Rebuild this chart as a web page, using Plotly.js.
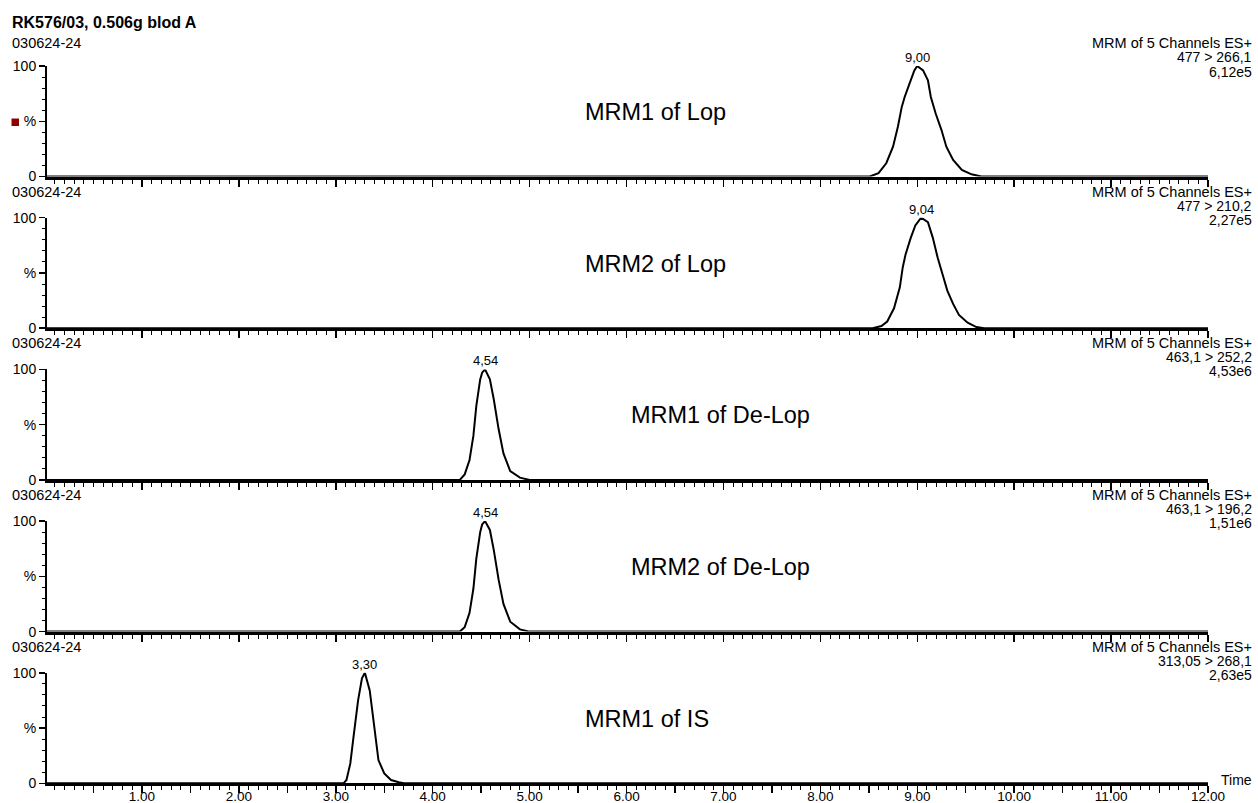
<!DOCTYPE html>
<html>
<head>
<meta charset="utf-8">
<script src="https://cdn.plot.ly/plotly-3.0.1.min.js"></script>
<style>html,body{margin:0;padding:0;background:#fff;}#chart{width:1258px;height:803px;}</style>
</head>
<body>
<div id="chart"></div>
<script>
// ---- Data ----
const chartTitle = "RK576/03, 0.506g blod A";
const sampleIds = ["030624-24", "030624-24", "030624-24", "030624-24", "030624-24"];
const channelHeader = "MRM of 5 Channels ES+";
const transitions = ["477 > 266,1", "477 > 210,2", "463,1 > 252,2", "463,1 > 196,2", "313,05 > 268,1"];
const intensities = ["6,12e5", "2,27e5", "4,53e6", "1,51e6", "2,63e5"];
const compoundLabels = ["MRM1 of Lop", "MRM2 of Lop", "MRM1 of De-Lop", "MRM2 of De-Lop", "MRM1 of IS"];
const peakTimes = [9.00, 9.04, 4.54, 4.54, 3.30];
const peakLabels = ["9,00", "9,04", "4,54", "4,54", "3,30"];

const t1 = [0.02, 8.51, 8.60, 8.68, 8.75, 8.80, 8.84, 8.87, 8.92, 8.97, 9.00, 9.06, 9.11, 9.14, 9.19, 9.25, 9.30, 9.37, 9.46, 9.56, 9.66, 12.0];
const v1 = [0, 0, 3, 12, 27, 45, 63, 72, 84, 96, 100, 96, 87, 72, 57, 42, 27, 15, 6, 2, 0, 0];
const t2 = [0.02, 8.54, 8.63, 8.69, 8.76, 8.82, 8.85, 8.88, 8.93, 8.98, 9.04, 9.11, 9.16, 9.21, 9.26, 9.31, 9.37, 9.43, 9.52, 9.61, 9.69, 12.0];
const v2 = [0, 0, 2, 6, 18, 37, 55, 67, 81, 93, 100, 96, 82, 64, 49, 34, 22, 12, 5, 1, 0, 0];
const t3 = [0.02, 4.28, 4.33, 4.38, 4.42, 4.45, 4.49, 4.51, 4.54, 4.59, 4.63, 4.68, 4.73, 4.80, 4.90, 5.00, 12.0];
const v3 = [0, 0, 5, 18, 40, 67, 91, 97, 100, 91, 73, 46, 24, 8, 2, 0, 0];
const t4 = [0.02, 4.28, 4.33, 4.38, 4.42, 4.45, 4.49, 4.51, 4.54, 4.59, 4.63, 4.68, 4.73, 4.80, 4.90, 5.00, 12.0];
const v4 = [0, 0, 4, 17, 39, 66, 90, 97, 100, 92, 74, 47, 25, 9, 2, 0, 0];
const t5 = [0.02, 3.08, 3.11, 3.15, 3.18, 3.23, 3.27, 3.30, 3.35, 3.40, 3.44, 3.50, 3.57, 3.65, 3.70, 12.0];
const v5 = [0, 0, 3, 18, 40, 75, 95, 100, 84, 47, 21, 9, 3, 1, 0, 0];

const xTickLabels = ["1.00","2.00","3.00","4.00","5.00","6.00","7.00","8.00","9.00","10.00","11.00","12.00"];
const yTickLabels = ["0", "%", "100"];
const xAxisLabel = "Time";

// ---- Layout helpers (pixel geometry) ----
const W = 1258, H = 803, L = 47, R = 50;
const plotW = W - L - R;
const px = x => (x - L) / plotW;
const py = y => 1 - y / H;
const FONT = "Liberation Sans, Arial, Helvetica, sans-serif";

const times = [t1, t2, t3, t4, t5];
const vals = [v1, v2, v3, v4, v5];
const tops = [66, 217.7, 369.4, 521.1, 672.8];
const bottoms = [176.5, 328.2, 479.9, 631.6, 783.3];
const labelLeft = [583, 583, 629, 629, 583];

// major ticks every 0.5 min, labels at whole minutes
const tickVals = [], tickText = [];
for (let k = 1; k <= 24; k++) {
  tickVals.push(k * 0.5);
  tickText.push(k % 2 === 0 ? xTickLabels[k / 2 - 1] : "");
}

const data = [];
const layout = {
  width: W, height: H,
  margin: {l: L, r: R, t: 0, b: 0},
  paper_bgcolor: "#fff", plot_bgcolor: "#fff",
  showlegend: false,
  font: {family: FONT, color: "#000", size: 14},
  annotations: [],
  shapes: []
};

for (let i = 0; i < 5; i++) {
  const n = i + 1;
  const xa = "xaxis" + (n === 1 ? "" : n), ya = "yaxis" + (n === 1 ? "" : n);
  const xr = "x" + (n === 1 ? "" : n), yr = "y" + (n === 1 ? "" : n);
  data.push({
    x: times[i], y: vals[i], type: "scatter", mode: "lines",
    line: {color: "#000", width: 2}, xaxis: xr, yaxis: yr,
    hoverinfo: "skip", cliponaxis: false
  });
  layout[xa] = {
    domain: [0, 1], anchor: yr, range: [0.02, 12.0],
    showline: true, linewidth: 3, linecolor: "#000",
    showgrid: false, zeroline: false,
    ticks: "outside", ticklen: 7, tickwidth: 1.5, tickcolor: "#000",
    tickmode: "array", tickvals: tickVals, ticktext: tickText,
    showticklabels: i === 4, tickfont: {size: 13.5, family: FONT},
    ticklabelstandoff: -9,
    minor: {ticks: "outside", dtick: 0.1, tick0: 0, ticklen: 4, tickwidth: 1, tickcolor: "#000"},
    fixedrange: true
  };
  layout[ya] = {
    domain: [py(bottoms[i]), py(tops[i])], anchor: xr, range: [0, 100],
    showline: true, linewidth: 2, linecolor: "#000",
    showgrid: false, zeroline: false,
    ticks: "outside", ticklen: 6, tickwidth: 1.5, tickcolor: "#000",
    tickmode: "array", tickvals: [0, 50, 100], ticktext: yTickLabels,
    tickfont: {size: 14, family: FONT},
    minor: {ticks: "outside", dtick: 10, tick0: 0, ticklen: 3, tickwidth: 1, tickcolor: "#000"},
    fixedrange: true
  };
  // sample id above each panel
  const idY = i === 0 ? 43 : tops[i] - 26;
  layout.annotations.push({
    xref: "paper", yref: "paper", x: px(10), y: py(idY),
    xanchor: "left", yanchor: "middle", showarrow: false,
    text: sampleIds[i], font: {size: 14.5, family: FONT}
  });
  // right header lines
  const rY = i === 0 ? [43, 57, 72] : [tops[i] - 26, tops[i] - 12, tops[i] + 2];
  [channelHeader, transitions[i], intensities[i]].forEach((s, j) => {
    layout.annotations.push({
      xref: "paper", yref: "paper", x: px(1254), y: py(rY[j]),
      xanchor: "right", yanchor: "middle", showarrow: false,
      text: s, font: {size: j === 0 ? 14.5 : 14, family: FONT}
    });
  });
  // compound label
  layout.annotations.push({
    xref: "paper", yref: "paper", x: px(labelLeft[i]), y: py(tops[i] + 46),
    xanchor: "left", yanchor: "middle", showarrow: false,
    text: compoundLabels[i], font: {size: 23.5, family: FONT}
  });
  // peak label
  layout.annotations.push({
    xref: xr, yref: yr, x: peakTimes[i], y: 100,
    xanchor: "center", yanchor: "bottom", showarrow: false, yshift: -1,
    text: peakLabels[i], font: {size: 13, family: FONT}
  });
}

// title
layout.annotations.push({
  xref: "paper", yref: "paper", x: px(10), y: py(22),
  xanchor: "left", yanchor: "middle", showarrow: false,
  text: "<b>" + chartTitle + "</b>", font: {size: 16, family: FONT}
});
// axis label "Time"
layout.annotations.push({
  xref: "paper", yref: "paper", x: px(1254), y: py(780),
  xanchor: "right", yanchor: "middle", showarrow: false,
  text: xAxisLabel, font: {size: 14, family: FONT}
});
// small marker square
layout.shapes.push({
  type: "rect", xref: "paper", yref: "paper",
  x0: px(11.5), x1: px(19), y0: py(126), y1: py(118.5),
  fillcolor: "#8b0000", line: {width: 0}
});

Plotly.newPlot("chart", data, layout, {displayModeBar: false, staticPlot: true});
</script>
</body>
</html>
